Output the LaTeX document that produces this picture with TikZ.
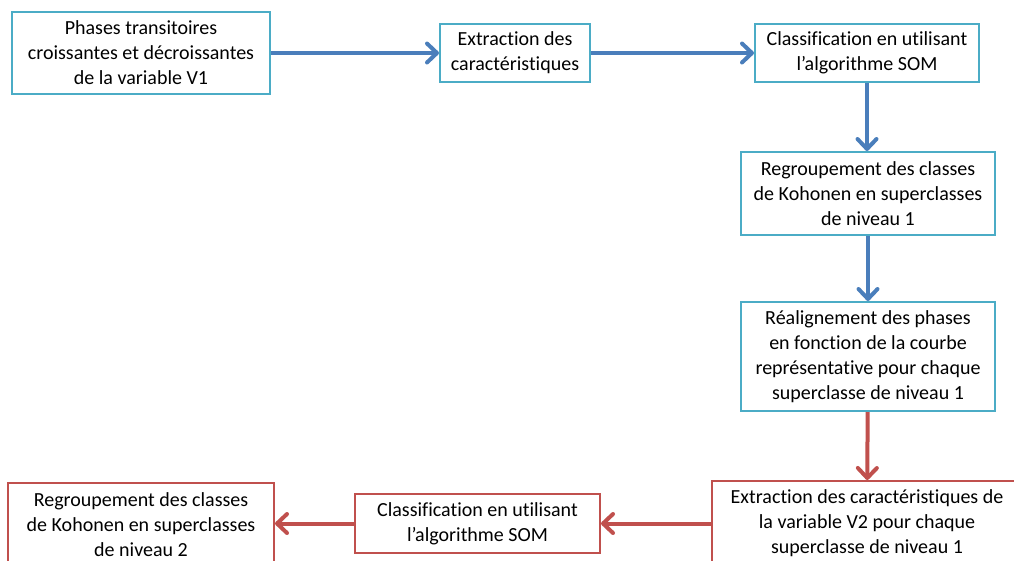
\documentclass[tikz,border=0pt]{standalone}
\usepackage{fontspec}
\setmainfont{Carlito}[Ligatures=NoCommon]
\usepackage{tikz}
\usetikzlibrary{
    positioning,
    arrows.meta
}
\definecolor{cadreBleu}{HTML}{4BACC6}
\definecolor{cadreRouge}{HTML}{C0504D}
\definecolor{flecheBleue}{HTML}{4A7EBB}
\definecolor{flecheRouge}{HTML}{C0504D}
\tikzset{
    >={Straight Barb[length=10pt,width=19pt,line cap=round,line join=round]},
    etape/.style={
        draw,
        line width=2pt,
        fill=white,
        align=center,
        inner sep=2pt,
        font=\fontsize{20}{25}\selectfont
    },
    etapeA/.style={etape, draw=cadreBleu},
    etapeB/.style={etape, draw=cadreRouge},
    lienA/.style={->, line width=4pt, draw=flecheBleue},
    lienB/.style={->, line width=4pt, draw=flecheRouge}
}

\begin{document}
\begin{tikzpicture}[
    x=1pt,
    y=-1pt
]
    \useasboundingbox (0,0) rectangle (1014,560);

    % Première variable
    \node[etapeA, minimum width=258pt, minimum height=82pt] (phases) at (141,53)
        {Phases transitoires\\croissantes et décroissantes\\de la variable V1};
    \node[etapeA, minimum width=150pt, minimum height=58pt] (extr1) at (515,53)
        {Extraction des\\caractéristiques};
    \node[etapeA, minimum width=224pt, minimum height=58pt] (som1) at (867,53)
        {Classification en utilisant\\l’algorithme SOM};
    \node[etapeA, minimum width=254pt, minimum height=83pt] (regr1) at (868,193.5)
        {Regroupement des classes\\de Kohonen en superclasses\\de niveau 1};
    \node[etapeA, minimum width=254pt, minimum height=109pt] (realign) at (868,356.5)
        {Réalignement des phases\\en fonction de la courbe\\représentative pour chaque\\superclasse de niveau 1};

    % Deuxième variable
    \node[etapeB, minimum width=310pt, minimum height=84pt] (extr2) at (867,523)
        {Extraction des caractéristiques de\\la variable V2 pour chaque\\superclasse de niveau 1};
    \node[etapeB, minimum width=245pt, minimum height=59pt] (som2) at (477.5,523.5)
        {Classification en utilisant\\l’algorithme SOM};
    \node[etapeB, minimum width=266pt, minimum height=84pt] (regr2) at (141,525)
        {Regroupement des classes\\de Kohonen en superclasses\\de niveau 2};

    % Liaisons
    \draw[lienA] (phases) -- (extr1);
    \draw[lienA] (extr1) -- (som1);
    \draw[lienA] (som1) -- (som1 |- regr1.north);
    \draw[lienA] (regr1) -- (realign);
    \draw[lienB] (realign) -- (extr2);
    \draw[lienB] (extr2.west |- som2) -- (som2);
    \draw[lienB] (som2) -- (regr2.east |- som2);

\end{tikzpicture}
\end{document}
